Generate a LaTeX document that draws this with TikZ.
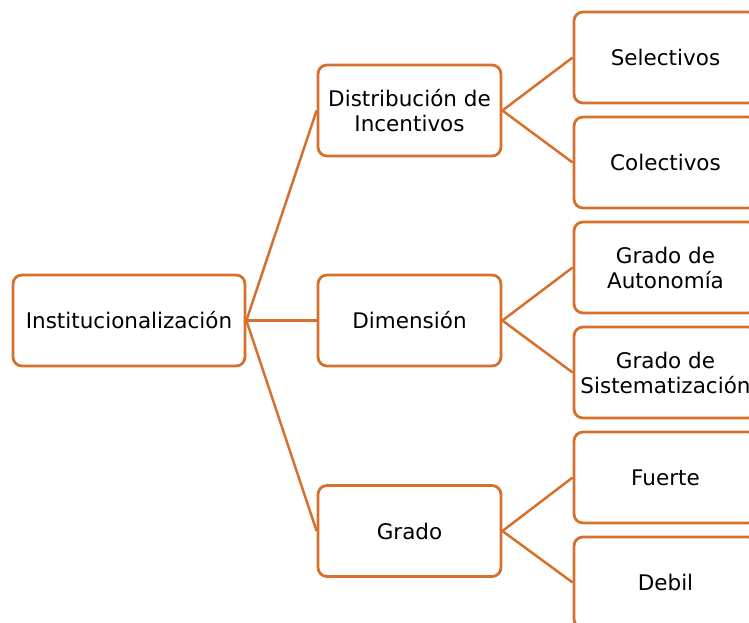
\documentclass[tikz,border=0pt]{standalone}
\usepackage{fontspec}
\setmainfont{DejaVu Sans}
\definecolor{edge}{RGB}{214,112,44}
\tikzset{
  box/.style={draw=edge, line width=2.8pt, rounded corners=9pt, fill=white,
    minimum width=183pt, minimum height=91pt, inner sep=0pt, align=center,
    font=\fontsize{21.5}{25}\selectfont, text=black},
  link/.style={draw=edge, line width=2.5pt}
}
\begin{document}
\begin{tikzpicture}[x=1pt,y=-1pt]
\useasboundingbox (0,0) rectangle (749,623);
\begin{scope}
\clip (0,0) rectangle (749,623);
\node[box, minimum width=232pt] (root) at (129,320.5) {Institucionalización};
\node[box] (dist) at (409.5,110.5) {Distribución de\\Incentivos};
\node[box] (dim) at (409.5,320.5) {Dimensión};
\node[box] (gra) at (409.5,531) {Grado};
\node[box] (sel) at (665.5,57.5) {Selectivos};
\node[box] (col) at (665.5,162.5) {Colectivos};
\node[box] (aut) at (665.5,267.5) {Grado de\\Autonomía};
\node[box] (sis) at (665.5,372.5) {Grado de\\Sistematización};
\node[box] (fue) at (665.5,477.5) {Fuerte};
\node[box] (deb) at (665.5,582.5) {Debil};
\draw[link] (root.east) -- (dist.west);
\draw[link] (root.east) -- (dim.west);
\draw[link] (root.east) -- (gra.west);
\draw[link] (dist.east) -- (sel.west);
\draw[link] (dist.east) -- (col.west);
\draw[link] (dim.east) -- (aut.west);
\draw[link] (dim.east) -- (sis.west);
\draw[link] (gra.east) -- (fue.west);
\draw[link] (gra.east) -- (deb.west);
\end{scope}
\end{tikzpicture}
\end{document}
